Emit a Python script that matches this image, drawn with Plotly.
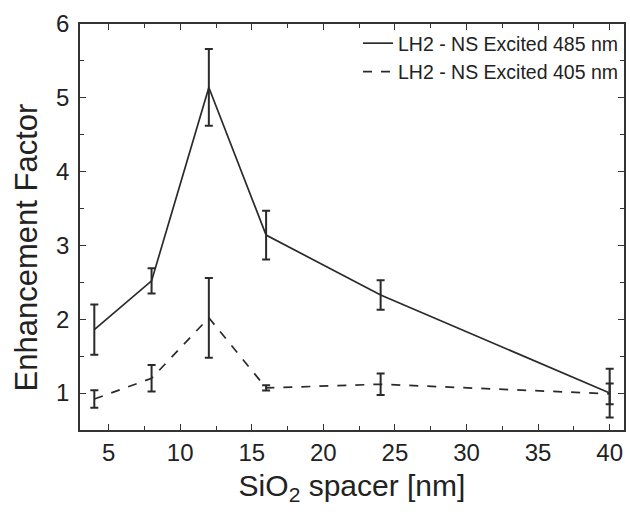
import plotly.graph_objects as go

spacer_nm = [4, 8, 12, 16, 24, 40]
ef_485 = [1.86, 2.52, 5.14, 3.14, 2.33, 1.0]
err_485 = [0.34, 0.17, 0.52, 0.33, 0.2, 0.33]
ef_405 = [0.92, 1.2, 2.02, 1.07, 1.12, 0.99]
err_405 = [0.12, 0.18, 0.54, 0.035, 0.145, 0.14]
names = ["LH2 - NS Excited 485 nm", "LH2 - NS Excited 405 nm"]
x_ticks = [5, 10, 15, 20, 25, 30, 35, 40]
y_ticks = [1, 2, 3, 4, 5, 6]

FONT = "Liberation Sans, Arial"
col = "#2a2a2a"
fig = go.Figure()
fig.add_trace(go.Scatter(
    x=spacer_nm, y=ef_485, mode="lines", name=names[0],
    line=dict(color=col, width=1.7),
    error_y=dict(type="data", array=err_485, color=col, thickness=2, width=4)))
fig.add_trace(go.Scatter(
    x=spacer_nm, y=ef_405, mode="lines", name=names[1],
    line=dict(color=col, width=1.7, dash="dash"),
    error_y=dict(type="data", array=err_405, color=col, thickness=2, width=4)))

axis_common = dict(
    showline=True, linecolor="#333", linewidth=1.6, mirror="ticks",
    ticks="inside", ticklen=6, tickwidth=1.4, tickcolor="#333",
    showgrid=False, zeroline=False,
    tickfont=dict(family=FONT, size=24, color="#222"),
)
fig.update_xaxes(
    range=[3, 41], tickvals=x_ticks,
    minor=dict(dtick=2.5, ticks="inside", ticklen=4, tickwidth=1.2, tickcolor="#333", tick0=0),
    title=dict(text="SiO<sub>2</sub> spacer [nm]", font=dict(family=FONT, size=30, color="#222"), standoff=10),
    **axis_common)
fig.update_yaxes(
    range=[0.5, 6], tickvals=y_ticks,
    minor=dict(dtick=0.5, ticks="inside", ticklen=4, tickwidth=1.2, tickcolor="#333", tick0=0),
    ticklabelstandoff=4,
    **axis_common)

fig.add_annotation(
    text="Enhancement Factor", textangle=-90, showarrow=False,
    xref="paper", yref="paper", x=-0.099, y=0.45, xanchor="center", yanchor="middle",
    font=dict(family=FONT, size=31, color="#222"))

fig.update_layout(
    width=630, height=525,
    margin=dict(l=80, r=4, t=24, b=95),
    paper_bgcolor="white", plot_bgcolor="white",
    showlegend=True,
    legend=dict(x=1, y=1, xanchor="right", yanchor="top", bgcolor="rgba(0,0,0,0)",
                font=dict(family=FONT, size=19.5, color="#222"),
                tracegroupgap=0, itemwidth=30),
)
fig.write_html("out.html")
